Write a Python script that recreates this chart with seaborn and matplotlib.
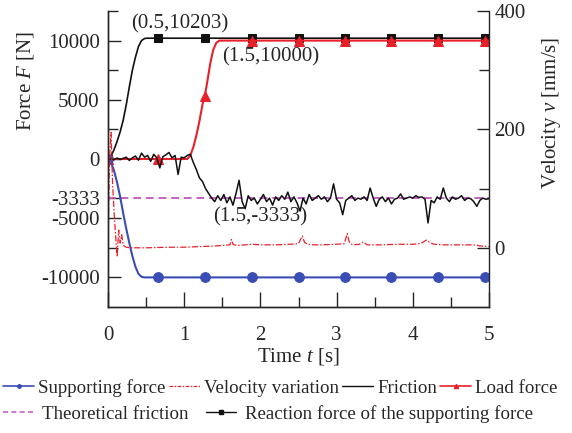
import numpy as np
import pandas as pd
import matplotlib
matplotlib.use("Agg")
import matplotlib.pyplot as plt
from matplotlib.lines import Line2D
from matplotlib.ticker import FixedLocator
import seaborn as sns

# ---------------- data ----------------
marker_t = [0, 0.66, 1.27, 1.89, 2.50, 3.11, 3.72, 4.33, 4.95]

sup_t = [0, 0.04, 0.08, 0.12, 0.16, 0.20, 0.24, 0.28, 0.32, 0.36, 0.40, 0.44, 0.48, 0.52,
         0.66, 1.27, 1.89, 2.50, 3.11, 3.72, 4.33, 4.95, 5.0]
sup_F = [0, -300, -1000, -2000, -3200, -4600, -5900, -7100, -8200, -9100, -9700, -9950, -10000, -10000,
         -10000, -10000, -10000, -10000, -10000, -10000, -10000, -10000, -10000]

rea_t = [0, 0.04, 0.08, 0.12, 0.16, 0.20, 0.24, 0.28, 0.32, 0.36, 0.40, 0.44, 0.48, 0.52,
         0.66, 1.27, 1.89, 2.50, 3.11, 3.72, 4.33, 4.95, 5.0]
rea_F = [0, 250, 800, 1500, 2300, 3300, 4600, 6100, 7500, 8600, 9500, 10000, 10180, 10203,
         10203, 10203, 10203, 10203, 10203, 10203, 10203, 10203, 10203]

load_t = [0, 0.66, 1.04, 1.08, 1.12, 1.16, 1.20, 1.24, 1.27, 1.30, 1.34, 1.38, 1.42, 1.46, 1.50,
          1.89, 2.50, 3.11, 3.72, 4.33, 4.95, 5.0]
load_F = [0, 0, 0, 300, 1000, 2000, 3200, 4600, 5340, 6400, 8000, 9200, 9800, 10000, 10000,
          10000, 10000, 10000, 10000, 10000, 10000, 10000]

fric_t = np.round(np.arange(0, 5.0001, 0.04), 2)
fric_F = [0, 30, -60, 80, -40, 60, 150, -120, 100, 250,
          -100, 500, 150, 300, -200, 400, 100, -750, 200, 350,
          550, 100, 300, -1300, 150, 100, 300, 400, -300, -900,
          -1600, -1900, -2500, -2900, -3300, -3600, -3100, -3500, -3000, -3700,
          -3200, -3900, -2900, -1800, -3600, -4200, -3100, -3500, -3300, -3800,
          -3400, -3000, -3600, -3300, -3900, -3200, -3500, -3100, -3400, -2800,
          -3600, -3200, -3700, -4400, -3300, -3800, -3000, -3500, -3300, -3100,
          -3400, -3200, -3600, -3300, -2100, -3400, -3700, -4700, -3500, -3300,
          -3100, -3500, -3300, -3400, -3200, -3500, -2450, -3300, -4000, -3400,
          -3200, -3600, -3300, -3800, -3400, -3300, -2950, -3400, -3300, -3200,
          -3300, -3100, -3250, -3200, -3400, -5400, -3500, -3700, -3200, -3400,
          -2450, -3300, -3600, -3200, -3400, -3300, -3100, -3500, -3300, -3350,
          -3600, -4000, -3500, -3300, -3400, -3350]

theo_t = [0, 5]
theo_F = [-3333, -3333]

vel_t = [0, 0.02, 0.04, 0.06, 0.08, 0.10, 0.12, 0.14, 0.16, 0.18,
         0.20, 0.24, 0.3, 0.5, 0.8, 1.0, 1.2, 1.4, 1.5, 1.6,
         1.62, 1.64, 1.66, 1.7, 1.8, 1.9, 2.0, 2.2, 2.4, 2.5,
         2.55, 2.58, 2.62, 2.7, 2.8, 3.0, 3.1, 3.14, 3.16, 3.18,
         3.22, 3.3, 3.35, 3.4, 3.6, 3.8, 4.0, 4.1, 4.18, 4.22,
         4.28, 4.4, 4.6, 4.8, 4.9, 5.0]
vel_v = [0, 150, 195, 110, 60, 20, -15, 30, 8, 22,
         4, 1, 0, 0, 1, 1, 2, 3, 4, 5,
         14, 6, 5, 4, 5, 6, 5, 5, 6, 7,
         20, 9, 6, 5, 5, 6, 7, 24, 12, 7,
         5, 6, 10, 5, 5, 6, 6, 7, 13, 9,
         6, 5, 5, 5, 3, 2]

left_ticks = [10000, 5000, 0, -3333, -5000, -10000]
left_minor = [12500, 7500, 2500, -7500]
right_ticks = [0, 200, 400]
right_minor = [100, 300]
x_ticks = [0, 1, 2, 3, 4, 5]
x_minor = [0.5, 1.5, 2.5, 3.5, 4.5]

annotations = [("(0.5,10203)", 0.94, 11450), ("(1.5,10000)", 2.14, 8600), ("(1.5,-3333)", 2.0, -4850)]

# ---------------- style ----------------
sns.set_style("ticks")
plt.rcParams["font.family"] = ["Liberation Serif", "DejaVu Serif"]
plt.rcParams["mathtext.fontset"] = "custom"
plt.rcParams["mathtext.rm"] = "Liberation Serif"
plt.rcParams["mathtext.it"] = "Liberation Serif:italic"
plt.rcParams["axes.linewidth"] = 1.0

BLUE = "#3a4db5"
RED = "#e8202a"
BLACK = "#111111"
MAG = "#c462c4"

fig = plt.figure(figsize=(5.72, 4.33), dpi=100)
ax = fig.add_axes([108 / 572, 1 - 307 / 433, (489 - 108) / 572, (307 - 11) / 433])
ax2 = ax.twinx()

def idx_of(ts):
    return [i for i, t in enumerate(ts) if any(abs(t - m) < 1e-9 for m in marker_t)]

# Theoretical friction
sns.lineplot(x=theo_t, y=theo_F, ax=ax, color=MAG, lw=1.4, dashes=False,
             linestyle=(0, (4, 2.5)), sort=False, estimator=None, zorder=2)
# Reaction force
sns.lineplot(x=rea_t, y=rea_F, ax=ax, color=BLACK, lw=1.2, marker="s", markersize=6,
             markevery=idx_of(rea_t), markeredgecolor=BLACK, sort=False, estimator=None, zorder=3)
# Load force
sns.lineplot(x=load_t, y=load_F, ax=ax, color=RED, lw=1.5, marker="^", markersize=7,
             markevery=idx_of(load_t), markeredgecolor=RED, sort=False, estimator=None, zorder=4)
# Friction
sns.lineplot(x=fric_t, y=fric_F, ax=ax, color=BLACK, lw=1.1, sort=False, estimator=None, zorder=5)
# Supporting force
sns.lineplot(x=sup_t, y=sup_F, ax=ax, color=BLUE, lw=1.5, marker="o", markersize=7,
             markevery=idx_of(sup_t), markeredgecolor=BLUE, sort=False, estimator=None, zorder=4)
# Velocity variation
sns.lineplot(x=vel_t, y=vel_v, ax=ax2, color=RED, lw=0.9, linestyle=(0, (5, 1.5, 1.2, 1.5)),
             sort=False, estimator=None)

ax.set_xlim(0, 5)
ax.set_ylim(-12500, 12500)
ax2.set_ylim(-100, 400)

ax.xaxis.set_major_locator(FixedLocator(x_ticks))
ax.xaxis.set_minor_locator(FixedLocator(x_minor))
ax.yaxis.set_major_locator(FixedLocator(left_ticks))
ax.yaxis.set_minor_locator(FixedLocator(left_minor))
ax.set_xticklabels([str(v) for v in x_ticks])
ax.set_yticklabels([str(v) for v in left_ticks])
ax2.yaxis.set_major_locator(FixedLocator(right_ticks))
ax2.yaxis.set_minor_locator(FixedLocator(right_minor))
ax2.set_yticklabels([str(v) for v in right_ticks])

ax.tick_params(axis="x", which="major", direction="in", length=11, width=1, labelsize=15, pad=14)
ax.tick_params(axis="x", which="minor", direction="in", length=7, width=1)
ax.tick_params(axis="y", which="major", direction="in", length=9, width=1, labelsize=15, pad=6)
ax.tick_params(axis="y", which="minor", direction="in", length=7, width=1)
ax2.tick_params(axis="y", which="major", direction="in", length=9, width=1, labelsize=15, pad=4)
ax2.tick_params(axis="y", which="minor", direction="in", length=7, width=1)

for a in (ax, ax2):
    a.spines["top"].set_visible(False)
ax.spines["right"].set_visible(False)

ax.set_xlabel("Time $t$ [s]", fontsize=15)
ax.xaxis.set_label_coords(0.5, -0.133)
ax.set_ylabel("Force $F$ [N]", fontsize=15)
ax.yaxis.set_label_coords(-0.19, 0.764)
ax2.set_ylabel("Velocity $v$ [mm/s]", fontsize=15)
ax2.yaxis.set_label_coords(1.135, 0.655)

for txt, x, y in annotations:
    ax.text(x, y, txt, fontsize=15, ha="center", va="center", zorder=6)

# ---------------- legend ----------------
h1 = [Line2D([], [], color=BLUE, lw=1.2, marker="o", markersize=2.5),
      Line2D([], [], color=RED, lw=0.9, linestyle=(0, (3, 1.2, 1, 1.2))),
      Line2D([], [], color=BLACK, lw=1.0),
      Line2D([], [], color=RED, lw=1.2, marker="^", markersize=3)]
l1 = ["Supporting force", "Velocity variation", "Friction", "Load force"]
h2 = [Line2D([], [], color=MAG, lw=1.2, linestyle=(0, (3, 2))),
      Line2D([], [], color=BLACK, lw=1.0, marker="s", markersize=2.5)]
l2 = ["Theoretical friction", "Reaction force of the supporting force"]

leg1 = fig.legend(h1, l1, loc="center left", bbox_to_anchor=(3 / 572, 1 - 388 / 433), ncol=4,
                  frameon=False, fontsize=13.6, handlelength=1.65, handletextpad=0.2,
                  columnspacing=0.18, borderpad=0, borderaxespad=0)
leg2 = fig.legend(h2, l2, loc="center left", bbox_to_anchor=(3 / 572, 1 - 414 / 433), ncol=2,
                  frameon=False, fontsize=13.6, handlelength=1.6, handletextpad=0.45,
                  columnspacing=0.95, borderpad=0, borderaxespad=0)

fig.savefig("out.png", dpi=100)
